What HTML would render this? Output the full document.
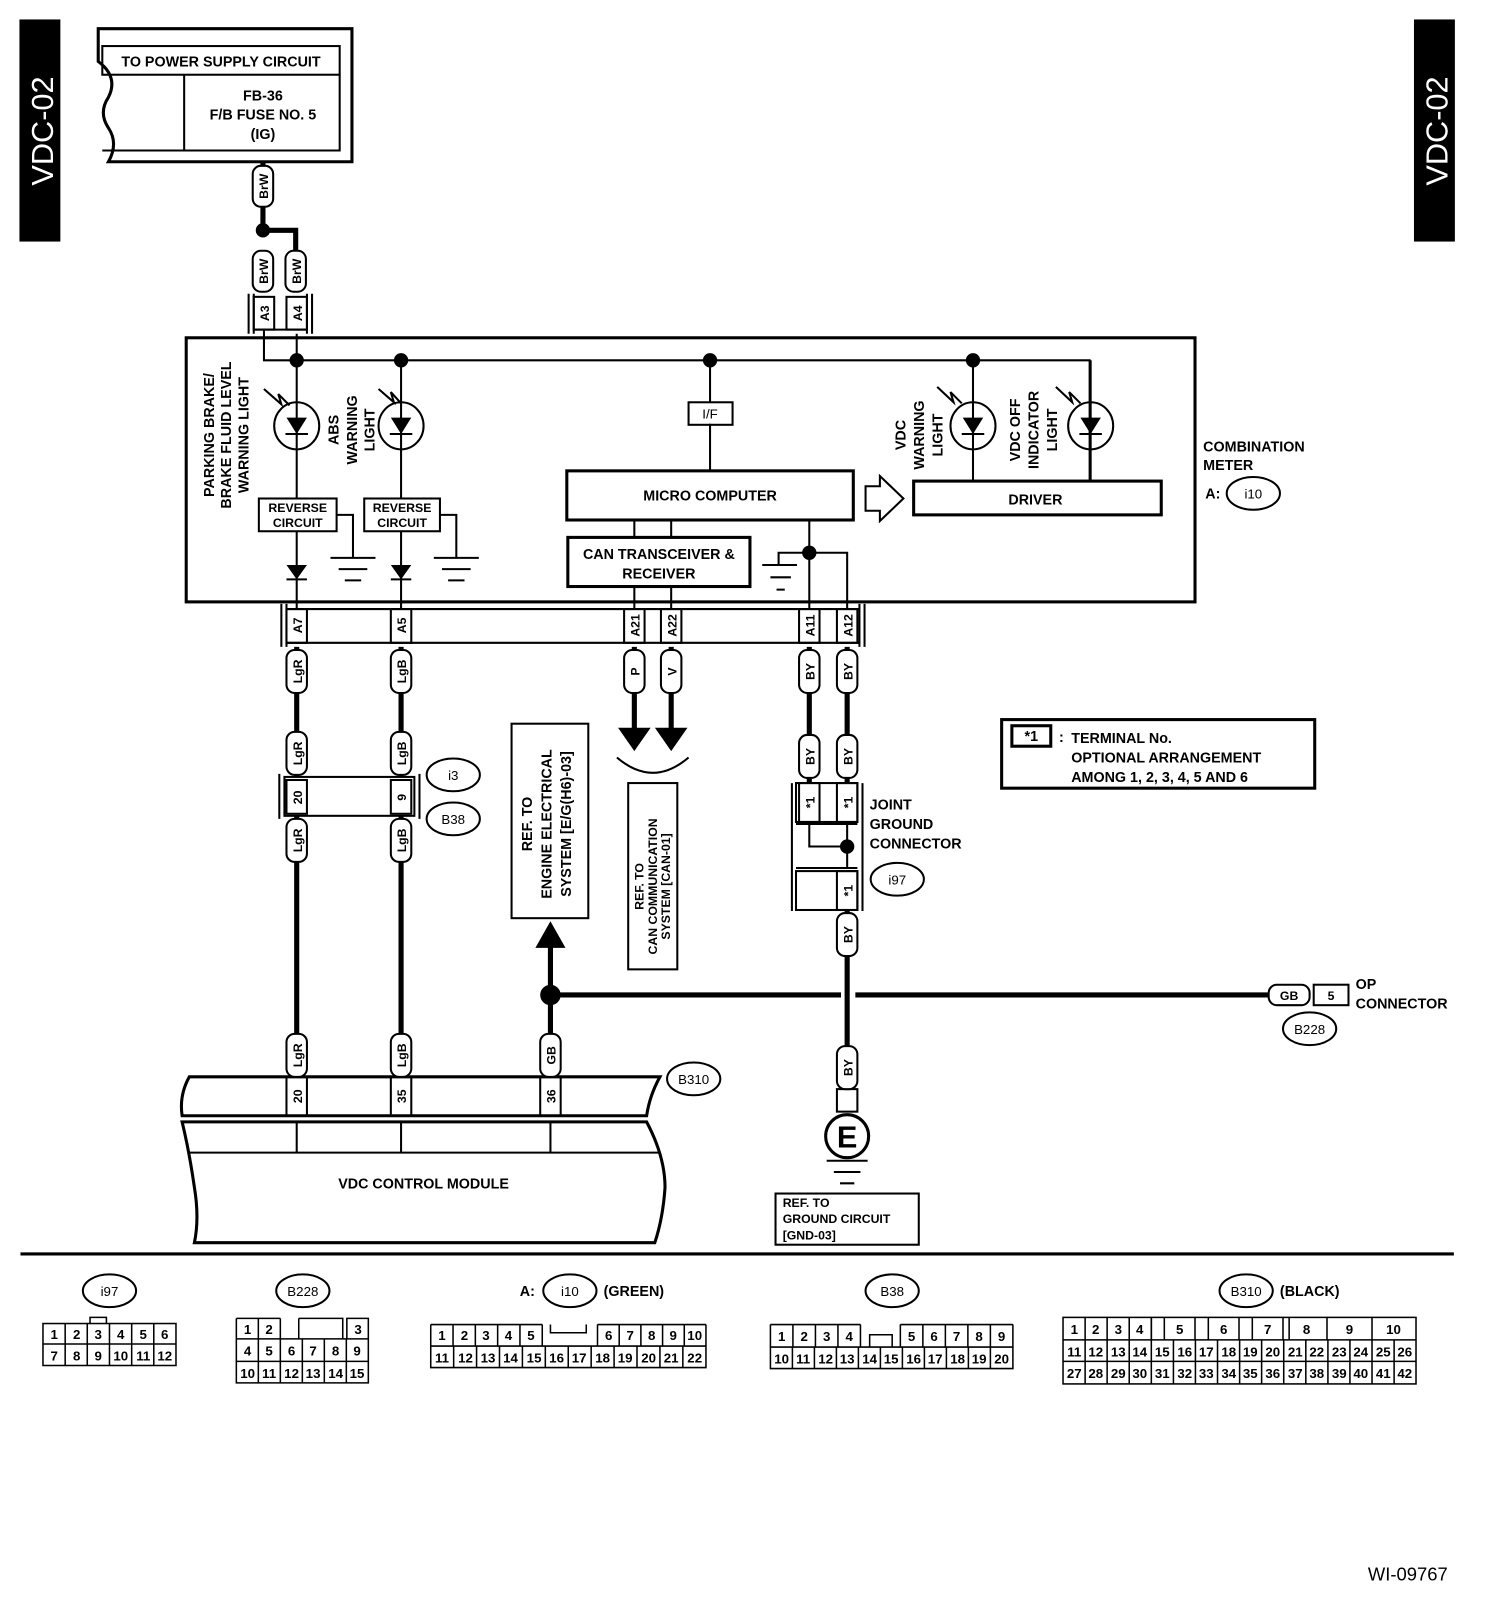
<!DOCTYPE html>
<html><head><meta charset="utf-8"><style>
html,body{margin:0;padding:0;background:#fff;}
svg{display:block;}
text{font-family:"Liberation Sans",sans-serif;font-weight:bold;fill:#000;}
.t{font-size:14px;}
.s{font-size:12px;}
.n{font-size:13px;font-weight:normal;}
</style></head><body>
<svg width="1504" height="1604" viewBox="0 0 1470 1567" preserveAspectRatio="none" xmlns="http://www.w3.org/2000/svg">
<g fill="none" stroke="#000" stroke-width="2">
<rect x="20" y="20" width="38" height="215" fill="#000"/>
<rect x="1383" y="20" width="38" height="215" fill="#000"/>
</g>
<text transform="translate(52,128) rotate(-90)" text-anchor="middle" style="font-size:30px;font-weight:normal;fill:#fff">VDC-02</text>
<text transform="translate(1415,128) rotate(-90)" text-anchor="middle" style="font-size:30px;font-weight:normal;fill:#fff">VDC-02</text>

<g fill="none" stroke="#000" stroke-width="2">
<path d="M96,28 H344 V158 H106 Q116,140 106,125 Q96,110 106,95 Q116,75 96,60 Z" stroke-width="3"/>
<rect x="100" y="45" width="232" height="28"/>
<path d="M180,73 V147 H332 V73"/>
<path d="M100,147 H180"/>
<path d="M257,158 V225 M257,225 H289 V245" stroke-width="5"/>
<circle cx="257" cy="225" r="6" fill="#000"/>
<path d="M243,287 V326 M305,287 V326 M248,287 V326 M300,287 V326"/>
<rect x="248" y="290" width="20" height="32"/><rect x="280" y="290" width="20" height="32"/>
<path d="M248,322 H300"/>
<rect x="182" y="330" width="986" height="258" stroke-width="3"/>
<path d="M258,322 V352 H1065 V470 M290,326 V595 M392,352 V595 M694,352 V393 M694,414 V460 M951,352 V470"/>
<circle cx="290" cy="352" r="6" fill="#000"/><circle cx="392" cy="352" r="6" fill="#000"/>
<circle cx="694" cy="352" r="6" fill="#000"/><circle cx="951" cy="352" r="6" fill="#000"/>
<ellipse cx="290" cy="416" rx="22" ry="23"/><ellipse cx="392" cy="416" rx="22" ry="23"/>
<ellipse cx="951" cy="416" rx="22" ry="23"/><ellipse cx="1066" cy="416" rx="22" ry="23"/>
<path d="M1066,352 V470"/>
<path d="M279,424 H301 M381,424 H403 M940,424 H962 M1055,424 H1077"/>
<path d="M258,380 L275,395 L272,385 L283,396 M370,380 L385,393 L382,383 L392,394 M916,378 L932,393 L929,383 L940,394 M1032,378 L1048,393 L1045,383 L1056,394"/>
<rect x="253" y="487" width="76" height="32" fill="#fff"/>
<rect x="356" y="487" width="74" height="32" fill="#fff"/>
<path d="M329,503 H345 V545 M323,545 H367 M331,556 H359 M337,567 H353"/>
<path d="M430,503 H446 V545 M424,545 H468 M432,556 H460 M438,567 H454"/>
<path d="M280,566 H300 M382,566 H402"/>
<rect x="673" y="393" width="43" height="22"/>
<rect x="554" y="460" width="280" height="48" stroke-width="3"/>
<rect x="555" y="525" width="178" height="48" stroke-width="3"/>
<path d="M620,508 V525 M656,508 V525 M620,573 V595 M656,573 V595"/>
<path d="M791,508 V595 M791,540 H828 V595 M791,540 H761 V552 M745,552 H779 M753,564 H773 M759,576 H767"/>
<circle cx="791" cy="540" r="6" fill="#000"/>
<path d="M846,475 H860 V465 L883,487 L860,509 V499 H846 Z"/>
<rect x="893" y="470" width="242" height="33" stroke-width="3"/>
<path d="M275,590 V632 M845,590 V632 M280,595 H840 M280,628 H840 M280,590 V632 M840,590 V632"/>
<rect x="280" y="595" width="20" height="33"/><rect x="382" y="595" width="20" height="33"/>
<rect x="610" y="595" width="20" height="33"/><rect x="646" y="595" width="20" height="33"/>
<rect x="781" y="595" width="20" height="33"/><rect x="818" y="595" width="20" height="33"/>
<path d="M290,632 V1052 M392,632 V1052 M620,632 V715 M656,632 V715 M791,632 V765 M828,632 V765 M828,890 V1065 M538,925 V1052 M538,972 H822 M836,972 H1240" stroke-width="5"/>
<circle cx="538" cy="972" r="9" fill="#000"/>
<path d="M606,712 H634 L620,732 Z M642,712 H670 L656,732 Z" fill="#000"/>
<path d="M603,740 Q638,770 673,740"/>
<path d="M538,902 L525,925 H551 Z" fill="#000"/>
<path d="M273,756 V800 M410,756 V800"/>
<rect x="278" y="759" width="127" height="38" fill="#fff"/>
<rect x="280" y="762" width="20" height="33"/><rect x="382" y="762" width="20" height="33"/>
<path d="M774,765 V890 M843,765 V890"/>
<rect x="778" y="765" width="60" height="38" fill="#fff"/>
<rect x="781" y="765" width="20" height="38"/><rect x="818" y="765" width="20" height="38"/>
<path d="M778,805 H838 M778,848 H838 M791,803 V827 H828 M828,803 V848"/>
<circle cx="828" cy="827" r="6" fill="#000"/>
<rect x="778" y="851" width="60" height="38"/><rect x="818" y="851" width="20" height="38"/>
<rect x="818" y="1064" width="20" height="22"/>
<circle cx="828" cy="1110" r="21" stroke-width="3"/>
<path d="M808,1134 H848 M815,1145 H841 M821,1156 H835"/>
<rect x="758" y="1166" width="140" height="50"/>
<rect x="500" y="707" width="75" height="190"/>
<rect x="614" y="765" width="48" height="182"/>
<rect x="979" y="703" width="306" height="67" stroke-width="3"/>
<rect x="989" y="709" width="38" height="20" stroke-width="3"/>
<rect x="1240" y="962" width="40" height="20" rx="8"/><rect x="1284" y="962" width="34" height="20"/>
<path d="M185,1052 H645 Q635,1070 632,1090 H178 Q175,1070 185,1052 Z" stroke-width="3"/>
<path d="M178,1096 H632 Q650,1130 650,1160 Q648,1190 640,1214 H190 Q195,1190 190,1160 Q185,1125 178,1096 Z" stroke-width="3"/>
<path d="M280,1052 V1090 M300,1052 V1090 M382,1052 V1090 M402,1052 V1090 M528,1052 V1090 M548,1052 V1090 M290,1096 V1126 M392,1096 V1126 M538,1096 V1126 M185,1126 H645"/>
<path d="M20,1225 H1421" stroke-width="3"/>
<ellipse cx="443" cy="757" rx="26" ry="16"/><ellipse cx="443" cy="800" rx="26" ry="16"/>
<ellipse cx="877" cy="859" rx="26" ry="16"/><ellipse cx="678" cy="1054" rx="26" ry="16"/>
<ellipse cx="1280" cy="1005" rx="26" ry="16"/><ellipse cx="1225" cy="482" rx="26" ry="16"/>
<ellipse cx="107" cy="1261" rx="26" ry="16"/><ellipse cx="296" cy="1261" rx="26" ry="16"/>
<ellipse cx="557" cy="1261" rx="26" ry="16"/><ellipse cx="872" cy="1261" rx="26" ry="16"/>
<ellipse cx="1218" cy="1261" rx="26" ry="16"/>
</g>
<g fill="#000">
<path d="M280,408 H300 L290,424 Z M382,408 H402 L392,424 Z M941,408 H961 L951,424 Z M1056,408 H1076 L1066,424 Z M280,552 H300 L290,566 Z M382,552 H402 L392,566 Z"/>
</g>
<g fill="#fff" stroke="#000" stroke-width="2">
<rect x="247" y="162" width="20" height="40" rx="8"/>
<rect x="247" y="245" width="20" height="40" rx="8"/><rect x="279" y="245" width="20" height="40" rx="8"/>
<rect x="280" y="635" width="20" height="42" rx="8"/><rect x="382" y="635" width="20" height="42" rx="8"/>
<rect x="610" y="635" width="20" height="42" rx="8"/><rect x="646" y="635" width="20" height="42" rx="8"/>
<rect x="781" y="635" width="20" height="42" rx="8"/><rect x="818" y="635" width="20" height="42" rx="8"/>
<rect x="280" y="715" width="20" height="42" rx="8"/><rect x="382" y="715" width="20" height="42" rx="8"/>
<rect x="781" y="718" width="20" height="42" rx="8"/><rect x="818" y="718" width="20" height="42" rx="8"/>
<rect x="280" y="800" width="20" height="42" rx="8"/><rect x="382" y="800" width="20" height="42" rx="8"/>
<rect x="818" y="892" width="20" height="42" rx="8"/>
<rect x="280" y="1010" width="20" height="42" rx="8"/><rect x="382" y="1010" width="20" height="42" rx="8"/>
<rect x="528" y="1010" width="20" height="42" rx="8"/><rect x="818" y="1022" width="20" height="42" rx="8"/>
</g>
<g class="s">
<text transform="translate(262,182) rotate(-90)" text-anchor="middle">BrW</text>
<text transform="translate(262,265) rotate(-90)" text-anchor="middle">BrW</text>
<text transform="translate(294,265) rotate(-90)" text-anchor="middle">BrW</text>
<text transform="translate(263,306) rotate(-90)" text-anchor="middle">A3</text>
<text transform="translate(295,306) rotate(-90)" text-anchor="middle">A4</text>
<text transform="translate(295,611) rotate(-90)" text-anchor="middle">A7</text>
<text transform="translate(397,611) rotate(-90)" text-anchor="middle">A5</text>
<text transform="translate(625,611) rotate(-90)" text-anchor="middle">A21</text>
<text transform="translate(661,611) rotate(-90)" text-anchor="middle">A22</text>
<text transform="translate(796,611) rotate(-90)" text-anchor="middle">A11</text>
<text transform="translate(833,611) rotate(-90)" text-anchor="middle">A12</text>
<text transform="translate(295,656) rotate(-90)" text-anchor="middle">LgR</text>
<text transform="translate(397,656) rotate(-90)" text-anchor="middle">LgB</text>
<text transform="translate(625,656) rotate(-90)" text-anchor="middle">P</text>
<text transform="translate(661,656) rotate(-90)" text-anchor="middle">V</text>
<text transform="translate(796,656) rotate(-90)" text-anchor="middle">BY</text>
<text transform="translate(833,656) rotate(-90)" text-anchor="middle">BY</text>
<text transform="translate(295,736) rotate(-90)" text-anchor="middle">LgR</text>
<text transform="translate(397,736) rotate(-90)" text-anchor="middle">LgB</text>
<text transform="translate(796,739) rotate(-90)" text-anchor="middle">BY</text>
<text transform="translate(833,739) rotate(-90)" text-anchor="middle">BY</text>
<text transform="translate(295,779) rotate(-90)" text-anchor="middle">20</text>
<text transform="translate(397,779) rotate(-90)" text-anchor="middle">9</text>
<text transform="translate(295,821) rotate(-90)" text-anchor="middle">LgR</text>
<text transform="translate(397,821) rotate(-90)" text-anchor="middle">LgB</text>
<text transform="translate(796,784) rotate(-90)" text-anchor="middle">*1</text>
<text transform="translate(833,784) rotate(-90)" text-anchor="middle">*1</text>
<text transform="translate(833,870) rotate(-90)" text-anchor="middle">*1</text>
<text transform="translate(833,913) rotate(-90)" text-anchor="middle">BY</text>
<text transform="translate(295,1031) rotate(-90)" text-anchor="middle">LgR</text>
<text transform="translate(397,1031) rotate(-90)" text-anchor="middle">LgB</text>
<text transform="translate(543,1031) rotate(-90)" text-anchor="middle">GB</text>
<text transform="translate(833,1043) rotate(-90)" text-anchor="middle">BY</text>
<text transform="translate(295,1071) rotate(-90)" text-anchor="middle">20</text>
<text transform="translate(397,1071) rotate(-90)" text-anchor="middle">35</text>
<text transform="translate(543,1071) rotate(-90)" text-anchor="middle">36</text>
<text x="291" y="500" text-anchor="middle">REVERSE</text>
<text x="291" y="515" text-anchor="middle">CIRCUIT</text>
<text x="393" y="500" text-anchor="middle">REVERSE</text>
<text x="393" y="515" text-anchor="middle">CIRCUIT</text>
</g>
<g class="t">
<text x="216" y="65" text-anchor="middle">TO POWER SUPPLY CIRCUIT</text>
<text x="257" y="98" text-anchor="middle">FB-36</text>
<text x="257" y="117" text-anchor="middle">F/B FUSE NO. 5</text>
<text x="257" y="136" text-anchor="middle">(IG)</text>
<text transform="translate(209,425) rotate(-90)" text-anchor="middle">PARKING BRAKE/</text>
<text transform="translate(226,425) rotate(-90)" text-anchor="middle">BRAKE FLUID LEVEL</text>
<text transform="translate(243,425) rotate(-90)" text-anchor="middle">WARNING LIGHT</text>
<text transform="translate(331,420) rotate(-90)" text-anchor="middle">ABS</text>
<text transform="translate(349,420) rotate(-90)" text-anchor="middle">WARNING</text>
<text transform="translate(366,420) rotate(-90)" text-anchor="middle">LIGHT</text>
<text transform="translate(885,425) rotate(-90)" text-anchor="middle">VDC</text>
<text transform="translate(903,425) rotate(-90)" text-anchor="middle">WARNING</text>
<text transform="translate(921,425) rotate(-90)" text-anchor="middle">LIGHT</text>
<text transform="translate(997,420) rotate(-90)" text-anchor="middle">VDC OFF</text>
<text transform="translate(1015,420) rotate(-90)" text-anchor="middle">INDICATOR</text>
<text transform="translate(1033,420) rotate(-90)" text-anchor="middle">LIGHT</text>
<text x="694" y="409" text-anchor="middle" class="n">I/F</text>
<text x="694" y="489" text-anchor="middle">MICRO COMPUTER</text>
<text x="644" y="546" text-anchor="middle">CAN TRANSCEIVER &amp;</text>
<text x="644" y="565" text-anchor="middle">RECEIVER</text>
<text x="1012" y="493" text-anchor="middle">DRIVER</text>
<text x="1176" y="441">COMBINATION</text>
<text x="1176" y="459">METER</text>
<text x="1178" y="487">A:</text>
<text x="1225" y="487" text-anchor="middle" class="n">i10</text>
<text x="443" y="762" text-anchor="middle" class="n">i3</text>
<text x="443" y="805" text-anchor="middle" class="n">B38</text>
<text x="877" y="864" text-anchor="middle" class="n">i97</text>
<text x="678" y="1059" text-anchor="middle" class="n">B310</text>
<text x="1280" y="1010" text-anchor="middle" class="n">B228</text>
<text x="850" y="791">JOINT</text>
<text x="850" y="810">GROUND</text>
<text x="850" y="829">CONNECTOR</text>
<text x="1008" y="724" text-anchor="middle">*1</text>
<text x="1035" y="725">:</text>
<text x="1047" y="726">TERMINAL No.</text>
<text x="1047" y="745">OPTIONAL ARRANGEMENT</text>
<text x="1047" y="764">AMONG 1, 2, 3, 4, 5 AND 6</text>
<text transform="translate(520,805) rotate(-90)" text-anchor="middle">REF. TO</text>
<text transform="translate(539,805) rotate(-90)" text-anchor="middle">ENGINE ELECTRICAL</text>
<text transform="translate(558,805) rotate(-90)" text-anchor="middle">SYSTEM [E/G(H6)-03]</text>
<text transform="translate(629,866) rotate(-90)" text-anchor="middle" class="s">REF. TO</text>
<text transform="translate(642,866) rotate(-90)" text-anchor="middle" class="s">CAN COMMUNICATION</text>
<text transform="translate(655,866) rotate(-90)" text-anchor="middle" class="s">SYSTEM [CAN-01]</text>
<text x="1260" y="977" text-anchor="middle" class="s">GB</text>
<text x="1301" y="977" text-anchor="middle" class="s">5</text>
<text x="1325" y="966">OP</text>
<text x="1325" y="985">CONNECTOR</text>
<text x="828" y="1121" text-anchor="middle" style="font-size:30px">E</text>
<text x="765" y="1179" class="s">REF. TO</text>
<text x="765" y="1195" class="s">GROUND CIRCUIT</text>
<text x="765" y="1211" class="s">[GND-03]</text>
<text x="414" y="1161" text-anchor="middle">VDC CONTROL MODULE</text>
<text x="107" y="1266" text-anchor="middle" class="n">i97</text>
<text x="296" y="1266" text-anchor="middle" class="n">B228</text>
<text x="508" y="1266">A:</text>
<text x="557" y="1266" text-anchor="middle" class="n">i10</text>
<text x="590" y="1266">(GREEN)</text>
<text x="872" y="1266" text-anchor="middle" class="n">B38</text>
<text x="1218" y="1266" text-anchor="middle" class="n">B310</text>
<text x="1251" y="1266">(BLACK)</text>
<text x="1415" y="1544" text-anchor="end" style="font-size:18px;font-weight:normal">WI-09767</text>
</g>

<g fill="none" stroke="#000" stroke-width="1.5">
<rect x="42" y="1293" width="130" height="41"/><path d="M42,1313 H172 M63.7,1293 V1334 M85.3,1293 V1334 M107,1293 V1334 M128.7,1293 V1334 M150.3,1293 V1334 M88,1293 V1287 H104 V1293"/>
<path d="M231,1288 H274 M231,1288 V1351 H360 V1288 H339 V1308 M231,1308 H360 M231,1330 H360 M252.5,1288 V1351 M274,1288 V1308 M274,1308 V1351 M295.5,1308 V1351 M317,1308 V1351 M338.5,1308 V1351 M292,1288 H335 V1308 M292,1288 V1308"/>
<path d="M421,1294 H530 M584,1294 H690 M421,1294 V1336 H690 V1294 M421,1315 H690 M530,1294 V1315 M584,1294 V1315 M442.8,1294 V1315 M464.6,1294 V1315 M486.4,1294 V1315 M508.2,1294 V1315 M605.2,1294 V1315 M626.4,1294 V1315 M647.6,1294 V1315 M668.8,1294 V1315 M538,1294 V1302 H573 V1294"/>
<path d="M443.4,1315 V1336 M465.8,1315 V1336 M488.2,1315 V1336 M510.6,1315 V1336 M533,1315 V1336 M555.4,1315 V1336 M577.8,1315 V1336 M600.2,1315 V1336 M622.6,1315 V1336 M645,1315 V1336 M667.4,1315 V1336"/>
<path d="M753,1294 H841 M880,1294 H990 M753,1294 V1337 H990 V1294 M753,1316 H990 M775,1294 V1316 M797,1294 V1316 M819,1294 V1316 M841,1294 V1316 M880,1294 V1316 M902,1294 V1316 M924,1294 V1316 M946,1294 V1316 M968,1294 V1316 M850,1316 V1304 H872 V1316"/>
<path d="M774.5,1316 V1337 M796,1316 V1337 M817.5,1316 V1337 M839,1316 V1337 M860.5,1316 V1337 M882,1316 V1337 M903.5,1316 V1337 M925,1316 V1337 M946.5,1316 V1337 M968,1316 V1337"/>
<rect x="1039" y="1287" width="345" height="65"/>
<path d="M1039,1309 H1384 M1039,1330 H1384"/>
<path d="M1060.6,1287 V1352 M1082.1,1287 V1352 M1103.7,1287 V1352 M1125.3,1287 V1352 M1146.9,1309 V1352 M1168.4,1309 V1352 M1190,1309 V1352 M1211.6,1309 V1352 M1233.1,1309 V1352 M1254.7,1309 V1352 M1276.3,1309 V1352 M1297.9,1309 V1352 M1319.4,1309 V1352 M1341,1309 V1352 M1362.6,1309 V1352"/>
<path d="M1125.3,1287 V1309 M1138,1287 V1309 M1168,1287 V1309 M1181,1287 V1309 M1211,1287 V1309 M1224,1287 V1309 M1254,1287 V1309 M1260,1287 V1309 M1297,1287 V1309 M1341,1287 V1309"/>
</g>
<g class="n" text-anchor="middle">
<text x="53" y="1308">1</text><text x="75" y="1308">2</text><text x="96" y="1308">3</text><text x="118" y="1308">4</text><text x="140" y="1308">5</text><text x="161" y="1308">6</text>
<text x="53" y="1329">7</text><text x="75" y="1329">8</text><text x="96" y="1329">9</text><text x="118" y="1329">10</text><text x="140" y="1329">11</text><text x="161" y="1329">12</text>
<text x="242" y="1303">1</text><text x="263" y="1303">2</text><text x="350" y="1303">3</text>
<text x="242" y="1324">4</text><text x="263" y="1324">5</text><text x="285" y="1324">6</text><text x="306" y="1324">7</text><text x="328" y="1324">8</text><text x="349" y="1324">9</text>
<text x="242" y="1346">10</text><text x="263" y="1346">11</text><text x="285" y="1346">12</text><text x="306" y="1346">13</text><text x="328" y="1346">14</text><text x="349" y="1346">15</text>
<text x="432" y="1309">1</text><text x="454" y="1309">2</text><text x="475" y="1309">3</text><text x="497" y="1309">4</text><text x="519" y="1309">5</text>
<text x="595" y="1309">6</text><text x="616" y="1309">7</text><text x="637" y="1309">8</text><text x="658" y="1309">9</text><text x="679" y="1309">10</text>
<text x="432" y="1331">11</text><text x="455" y="1331">12</text><text x="477" y="1331">13</text><text x="499" y="1331">14</text><text x="522" y="1331">15</text><text x="544" y="1331">16</text><text x="566" y="1331">17</text><text x="589" y="1331">18</text><text x="611" y="1331">19</text><text x="634" y="1331">20</text><text x="656" y="1331">21</text><text x="679" y="1331">22</text>
<text x="764" y="1310">1</text><text x="786" y="1310">2</text><text x="808" y="1310">3</text><text x="830" y="1310">4</text>
<text x="891" y="1310">5</text><text x="913" y="1310">6</text><text x="935" y="1310">7</text><text x="957" y="1310">8</text><text x="979" y="1310">9</text>
<text x="764" y="1332">10</text><text x="785" y="1332">11</text><text x="807" y="1332">12</text><text x="828" y="1332">13</text><text x="850" y="1332">14</text><text x="871" y="1332">15</text><text x="893" y="1332">16</text><text x="914" y="1332">17</text><text x="936" y="1332">18</text><text x="957" y="1332">19</text><text x="979" y="1332">20</text>
<text x="1050" y="1303">1</text><text x="1071" y="1303">2</text><text x="1093" y="1303">3</text><text x="1114" y="1303">4</text>
<text x="1153" y="1303">5</text><text x="1196" y="1303">6</text><text x="1239" y="1303">7</text><text x="1277" y="1303">8</text><text x="1319" y="1303">9</text><text x="1362" y="1303">10</text>
<text x="1050" y="1325">11</text><text x="1071" y="1325">12</text><text x="1093" y="1325">13</text><text x="1114" y="1325">14</text><text x="1136" y="1325">15</text><text x="1158" y="1325">16</text><text x="1179" y="1325">17</text><text x="1201" y="1325">18</text><text x="1222" y="1325">19</text><text x="1244" y="1325">20</text><text x="1266" y="1325">21</text><text x="1287" y="1325">22</text><text x="1309" y="1325">23</text><text x="1330" y="1325">24</text><text x="1352" y="1325">25</text><text x="1373" y="1325">26</text>
<text x="1050" y="1346">27</text><text x="1071" y="1346">28</text><text x="1093" y="1346">29</text><text x="1114" y="1346">30</text><text x="1136" y="1346">31</text><text x="1158" y="1346">32</text><text x="1179" y="1346">33</text><text x="1201" y="1346">34</text><text x="1222" y="1346">35</text><text x="1244" y="1346">36</text><text x="1266" y="1346">37</text><text x="1287" y="1346">38</text><text x="1309" y="1346">39</text><text x="1330" y="1346">40</text><text x="1352" y="1346">41</text><text x="1373" y="1346">42</text>
</g>
</svg>
</body></html>
